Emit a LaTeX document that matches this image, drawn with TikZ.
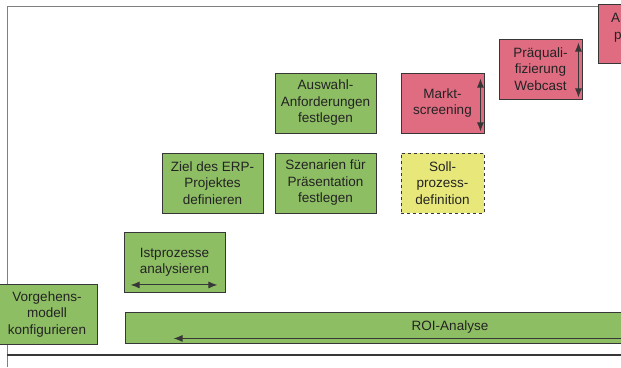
\documentclass[tikz,border=0pt]{standalone}
\usepackage{fontspec}
\setmainfont{Liberation Sans}
\usepackage{tikz}
\usetikzlibrary{arrows.meta, calc}

\definecolor{boxgreen}{RGB}{142,190,100}
\definecolor{boxred}{RGB}{224,108,130}
\definecolor{boxyellow}{RGB}{232,232,122}
\definecolor{boxline}{RGB}{55,55,55}
\definecolor{txtgray}{RGB}{35,35,35}

\tikzset{
  phase/.style={draw=boxline, line width=0.9pt, align=center, inner sep=0pt,
    text=txtgray, font=\fontsize{13.5}{16.5}\selectfont},
  greenbox/.style={phase, fill=boxgreen, minimum width=101pt, minimum height=60pt},
  redbox/.style={phase, fill=boxred, minimum width=83pt, minimum height=60pt},
  yellowbox/.style={phase, fill=boxyellow, dashed, minimum width=83pt, minimum height=60pt},
  span/.style={line width=1pt, boxline, {Latex[length=9pt,width=7pt]}-{Latex[length=9pt,width=7pt]}},
}

\begin{document}
\begin{tikzpicture}[x=1pt, y=-1pt]
  \useasboundingbox (0,0) rectangle (621,367);
  \clip (0,0) rectangle (621,367);

  % ---------- rahmen ----------
  \draw[gray, line width=0.8pt] (7,367) -- (7,6) -- (621,6);
  \draw[boxline, line width=1.3pt] (7,355) -- (621,355);

  % ---------- gruene phasen ----------
  \foreach \nm/\x/\y/\txt in {
      vorgehen/47/314.5/{Vorgehens-\\modell\\konfigurieren},
      istproz/174.5/262.5/{Istprozesse\\analysieren},
      ziel/212.5/183/{Ziel des ERP-\\Projektes\\definieren},
      szenarien/325.5/183/{Szenarien für\\Präsentation\\festlegen},
      auswahl/325.5/103/{Auswahl-\\Anforderungen\\festlegen}}{
    \node[greenbox] (\nm) at (\x,\y) {\txt};
  }

  % ---------- rote phasen ----------
  \node[redbox] (markt) at (442.5,103) {Markt-\\screening};
  \node[redbox] (praequal) at (540.5,69) {Präquali-\\fizierung\\Webcast};
  \node[redbox, minimum height=59pt] (anbieter) at (639.5,33.5) {};
  \node[inner sep=0pt, anchor=north west, align=left, text=txtgray,
        font=\fontsize{13.5}{17}\selectfont] (anbieter-t) at (611,13) {A\\\hspace*{3pt}p};

  % ---------- soll-prozess ----------
  \node[yellowbox] (soll) at (442.5,183) {Soll-\\prozess-\\definition};

  % ---------- roi-balken ----------
  \node[greenbox, minimum width=650pt, minimum height=31pt] (roi) at (450,327.5) {ROI-Analyse};

  % ---------- pfeile ----------
  \coordinate (ist-a) at ($(istproz.south west)+(7,-8)$);
  \coordinate (ist-b) at ($(istproz.south east)+(-8,-8)$);
  \draw[span] (ist-a) -- (ist-b);

  \coordinate (markt-a) at ($(markt.north east)+(-4,6)$);
  \coordinate (markt-b) at ($(markt.south east)+(-4,-2)$);
  \draw[span] (markt-a) -- (markt-b);

  \coordinate (pq-a) at ($(praequal.north east)+(-4,4)$);
  \coordinate (pq-b) at ($(praequal.south east)+(-4,-2)$);
  \draw[span] (pq-a) -- (pq-b);

  \coordinate (roi-a) at ($(roi.south east)+(-20,-5)$);
  \coordinate (roi-b) at ($(roi.south west)+(49,-5)$);
  \draw[line width=1pt, boxline, -{Latex[length=9pt,width=7pt]}] (roi-a) -- (roi-b);
\end{tikzpicture}
\end{document}
